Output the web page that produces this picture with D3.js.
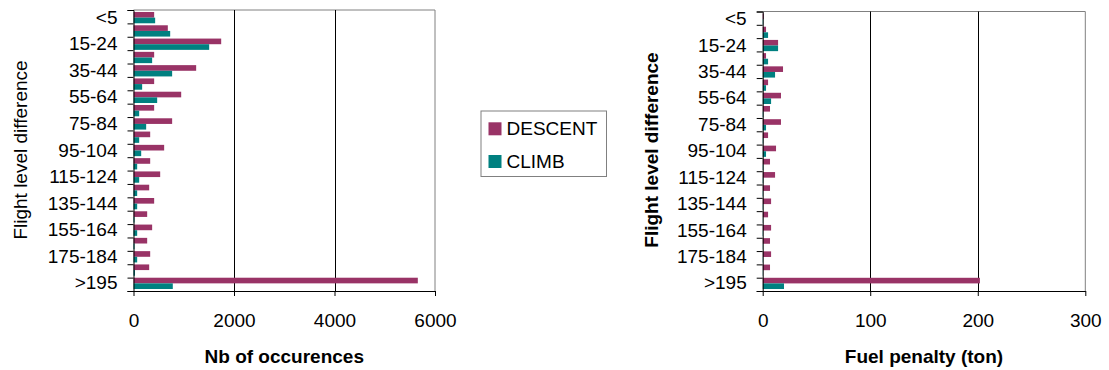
<!DOCTYPE html>
<html><head><meta charset="utf-8">
<script src="https://cdn.jsdelivr.net/npm/d3@7"></script>
<style>body{margin:0;background:#fff;} text{font-family:"Liberation Sans",Arial,sans-serif;}</style>
</head><body>
<svg id="c" width="1109" height="370"></svg>
<script>
const categories = ["<5","5-14","15-24","25-34","35-44","45-54","55-64","65-74","75-84","85-94","95-104","105-114","115-124","125-134","135-144","145-154","155-164","165-174","175-184","185-194",">195"];
const occDescent = [411,683,1745,411,1247,411,949,411,769,332,610,332,531,312,411,272,371,272,332,312,5658];
const occClimb   = [431,730,1506,371,769,172,471,113,252,113,153,73,113,73,73,20,73,20,73,30,782];
const fuelDescent = [1,3.1,14.3,3.1,18.9,5,17,6.8,17,5,12.4,6.8,11.5,6.8,7.8,5,7.8,6.8,7.8,6.8,202];
const fuelClimb   = [0.5,5,14.3,5,11.5,3.1,7.8,0.6,3.1,0.5,3.1,0.5,0.5,0.3,0.3,0.2,0.3,0.2,0.3,0.2,19.8];
const occTicks = [0,2000,4000,6000];
const fuelTicks = [0,100,200,300];
const seriesNames = ["DESCENT","CLIMB"];
const colors = ["#993366","#008080"];

const svg = d3.select("#c");
const FS = 19;

function panel(o){
  const g = svg.append("g");
  const x = d3.scaleLinear().domain([0, o.ticks[o.ticks.length-1]]).range([o.x0, o.x1]);
  const y = d3.scaleBand().domain(categories).range([o.y0, o.y1]).padding(0.15);
  const ys = d3.scaleBand().domain(seriesNames).range([0, y.bandwidth()]);
  const yi = d3.scaleLinear().domain([0, categories.length]).range([o.y0, o.y1]);
  g.append("line").attr("x1",o.x0).attr("x2",o.x1).attr("y1",o.y0).attr("y2",o.y0).attr("stroke","#808080");
  g.append("line").attr("x1",o.x1).attr("x2",o.x1).attr("y1",o.y0).attr("y2",o.y1).attr("stroke","#808080");
  g.selectAll(".grid").data(o.ticks.slice(1,-1)).enter().append("line")
    .attr("x1",d=>Math.round(x(d))+0.5).attr("x2",d=>Math.round(x(d))+0.5)
    .attr("y1",o.y0).attr("y2",o.y1).attr("stroke","#000").attr("stroke-width",1);
  const data = [o.d, o.c];
  data.forEach((arr,si)=>{
    g.selectAll(".b"+si).data(arr).enter().append("rect")
      .attr("x",x(0)).attr("y",(d,i)=>y(categories[i])+ys(seriesNames[si]))
      .attr("width",d=>x(d)-x(0)).attr("height",ys.bandwidth())
      .attr("fill",colors[si]);
  });
  const ya = g.append("g").attr("transform",`translate(${o.x0},0)`)
    .call(d3.axisLeft(yi).tickValues(d3.range(categories.length+1)).tickSize(6).tickFormat(""));
  ya.select(".domain").attr("stroke","#000");
  const yl = g.append("g").attr("transform",`translate(${o.x0},0)`)
    .call(d3.axisLeft(y).tickSize(0).tickPadding(16).tickFormat((d,i)=> i%2===0 ? d : ""));
  yl.select(".domain").remove();
  yl.selectAll("text").attr("font-size",FS).attr("font-family","Liberation Sans, Arial, sans-serif").attr("fill","#000");
  const xa = g.append("g").attr("transform",`translate(0,${o.y1})`)
    .call(d3.axisBottom(x).tickValues(o.ticks).tickFormat(d3.format("d")).tickSize(5).tickPadding(18).tickSizeOuter(0));
  xa.selectAll("text").attr("font-size",FS).attr("font-family","Liberation Sans, Arial, sans-serif").attr("fill","#000");
  g.append("text").attr("x",(o.x0+o.x1)/2).attr("y",363).attr("text-anchor","middle")
    .attr("font-size",FS).attr("font-weight","bold").text(o.xtitle);
  g.append("text").attr("transform",`translate(${o.ytx},150) rotate(-90)`).attr("text-anchor","middle")
    .attr("dy","0.35em").attr("font-size",FS).attr("font-weight",o.ybold?"bold":"normal").text("Flight level difference");
}

panel({x0:133.5,x1:435,y0:10,y1:291,ticks:occTicks,d:occDescent,c:occClimb,xtitle:"Nb of occurences",ytx:20,ybold:false});
panel({x0:762.7,x1:1085.3,y0:11.5,y1:291,ticks:fuelTicks,d:fuelDescent,c:fuelClimb,xtitle:"Fuel penalty (ton)",ytx:651,ybold:true});

const lg = svg.append("g");
lg.append("rect").attr("x",481).attr("y",111).attr("width",125.5).attr("height",65.5).attr("fill","#fff").attr("stroke","#808080");
seriesNames.forEach((s,i)=>{
  const cy = [128.8,161.5][i];
  lg.append("rect").attr("x",488.5).attr("y",cy-6.5).attr("width",13).attr("height",13).attr("fill",colors[i]);
  lg.append("text").attr("x",506.5).attr("y",cy).attr("dy","0.35em").attr("font-size",FS).text(s);
});
</script>
</body></html>
